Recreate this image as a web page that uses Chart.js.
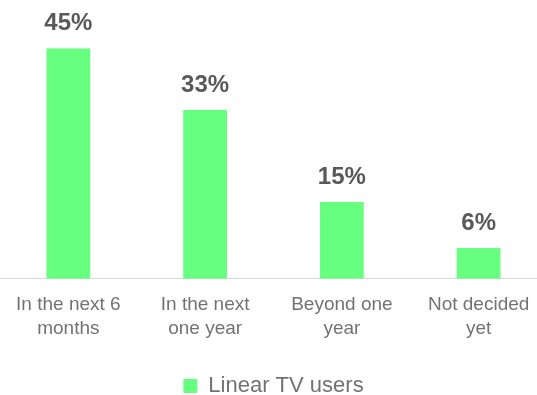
<!DOCTYPE html>
<html>
<head>
<meta charset="utf-8">
<script src="https://cdn.jsdelivr.net/npm/chart.js@4/dist/chart.umd.min.js"></script>
<style>
  html, body { margin: 0; padding: 0; background: #fff; overflow: hidden; }
  #wrap { width: 547px; height: 395px; overflow: hidden; }
</style>
</head>
<body>
<div id="wrap"><canvas id="intentChart" width="547" height="407"></canvas></div>
<script>
// Intention to switch among linear TV users
const categories = [
  ["In the next 6", "months"],
  ["In the next", "one year"],
  ["Beyond one", "year"],
  ["Not decided", "yet"]
];
const linearTvUsers = [45, 33, 15, 6];
const seriesName = "Linear TV users";

const barColor = "#66ff7f";
const labelColor = "#595959";
const axisTextColor = "#767171";
const fontFamily = "'Liberation Sans', Arial, sans-serif";

// small inline replacement for the datalabels plugin
const valueLabels = {
  id: "valueLabels",
  afterDatasetsDraw(chart) {
    const ctx = chart.ctx;
    const meta = chart.getDatasetMeta(0);
    ctx.save();
    ctx.font = "bold 24px " + fontFamily;
    ctx.fillStyle = labelColor;
    ctx.textAlign = "center";
    ctx.textBaseline = "middle";
    meta.data.forEach((bar, i) => {
      ctx.fillText(linearTvUsers[i] + "%", bar.x, bar.y - 25);
    });
    ctx.restore();
  }
};

const ctx = document.getElementById("intentChart").getContext("2d");
new Chart(ctx, {
  type: "bar",
  data: {
    labels: categories,
    datasets: [{
      label: seriesName,
      data: linearTvUsers,
      backgroundColor: barColor,
      borderWidth: 0,
      categoryPercentage: 0.4,
      barPercentage: 0.8
    }]
  },
  options: {
    responsive: false,
    animation: false,
    layout: { padding: { top: 23, left: 0, right: 0, bottom: 0 } },
    plugins: {
      legend: {
        position: "bottom",
        labels: {
          color: axisTextColor,
          font: { family: fontFamily, size: 22 },
          boxWidth: 14,
          boxHeight: 14,
          padding: 8
        }
      },
      tooltip: { enabled: false }
    },
    scales: {
      y: { display: false, min: 0, max: 50 },
      x: {
        grid: { display: false },
        border: { display: true, color: "#d9d9d9", width: 1 },
        ticks: {
          color: axisTextColor,
          font: { family: fontFamily, size: 19, lineHeight: 1.22 },
          maxRotation: 0,
          autoSkip: false,
          padding: 7
        },
        // empty title just to leave the gap above the legend
        title: {
          display: true,
          text: "",
          color: "rgba(0,0,0,0)",
          font: { size: 16, lineHeight: 1 },
          padding: { top: 2, bottom: 2 }
        }
      }
    }
  },
  plugins: [valueLabels]
});
</script>
</body>
</html>
